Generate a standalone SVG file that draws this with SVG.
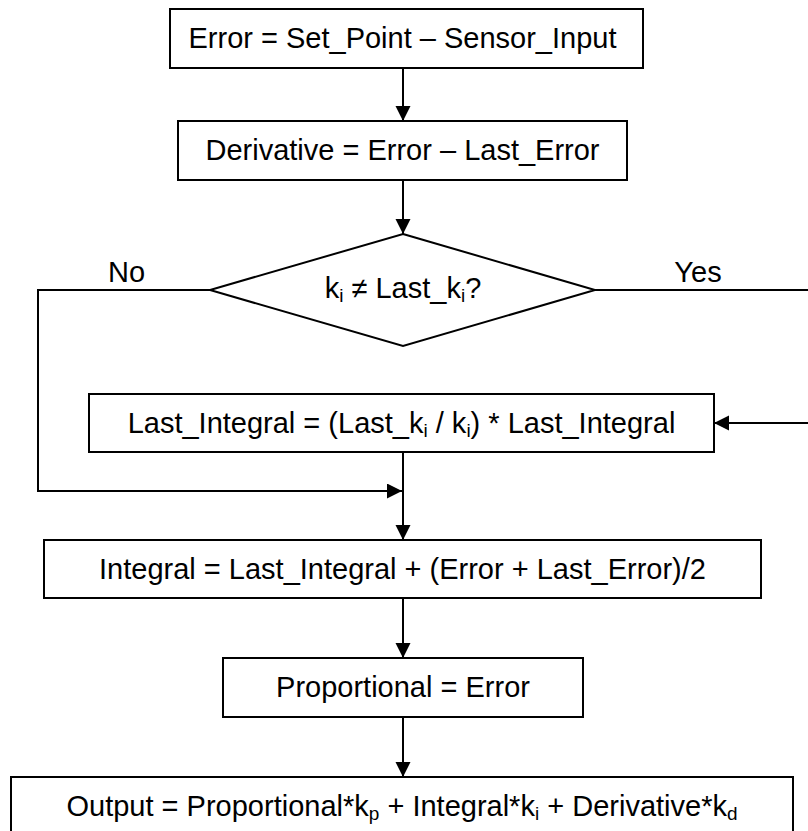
<svg xmlns="http://www.w3.org/2000/svg" width="808" height="831" viewBox="0 0 808 831">
<style>
.box{fill:#fff;stroke:#000;stroke-width:2}
.t{font-family:"Liberation Sans",Arial,sans-serif;font-size:29px;fill:#000;text-anchor:middle}
.sub{font-size:19px}
.ln{fill:none;stroke:#000;stroke-width:2}
</style>
<defs>
<marker id="ah" markerUnits="userSpaceOnUse" markerWidth="16" markerHeight="16" refX="15" refY="7.5" orient="auto">
<path d="M0,0 L15,7.5 L0,15 Z" fill="#000"/>
</marker>
</defs>
<rect width="808" height="831" fill="#fff"/>
<g id="connectors">
<line class="ln" x1="403" y1="68" x2="403" y2="121" marker-end="url(#ah)"/>
<line class="ln" x1="403" y1="180" x2="403" y2="234" marker-end="url(#ah)"/>
<polyline class="ln" points="595,290 812,290 812,423 714,423" marker-end="url(#ah)"/>
<polyline class="ln" points="210,290 38,290 38,491 402,491" marker-end="url(#ah)"/>
<line class="ln" x1="403" y1="452" x2="403" y2="540" marker-end="url(#ah)"/>
<line class="ln" x1="403" y1="598" x2="403" y2="658" marker-end="url(#ah)"/>
<line class="ln" x1="403" y1="717" x2="403" y2="777" marker-end="url(#ah)"/>
<text class="t" x="126.5" y="282">No</text>
<text class="t" x="698" y="282">Yes</text>
</g>
<g id="error">
<rect class="box" x="170" y="9" width="473" height="59"/>
<text class="t" x="402.5" y="48">Error = Set_Point – Sensor_Input</text>
</g>
<g id="derivative">
<rect class="box" x="178" y="121" width="449" height="59"/>
<text class="t" x="402.5" y="160">Derivative = Error – Last_Error</text>
</g>
<g id="decision">
<polygon class="box" points="403,234 595,290 403,346 210,290"/>
<text class="t" x="403" y="298">k<tspan class="sub" dy="4">i</tspan><tspan dy="-4"> ≠ Last_k</tspan><tspan class="sub" dy="4">i</tspan><tspan dy="-4">?</tspan></text>
</g>
<g id="rescale">
<rect class="box" x="89" y="394" width="625" height="58"/>
<text class="t" x="401.5" y="433">Last_Integral = (Last_k<tspan class="sub" dy="4">i</tspan><tspan dy="-4"> / k</tspan><tspan class="sub" dy="4">i</tspan><tspan dy="-4">) * Last_Integral</tspan></text>
</g>
<g id="integral">
<rect class="box" x="44" y="540" width="717" height="58"/>
<text class="t" x="402.5" y="579">Integral = Last_Integral + (Error + Last_Error)/2</text>
</g>
<g id="proportional">
<rect class="box" x="223" y="658" width="360" height="59"/>
<text class="t" x="403" y="697">Proportional = Error</text>
</g>
<g id="output">
<rect class="box" x="11" y="777" width="782" height="70"/>
<text class="t" x="402" y="816">Output = Proportional*k<tspan class="sub" dy="4">p</tspan><tspan dy="-4"> + Integral*k</tspan><tspan class="sub" dy="4">i</tspan><tspan dy="-4"> + Derivative*k</tspan><tspan class="sub" dy="4">d</tspan></text>
</g>
</svg>
